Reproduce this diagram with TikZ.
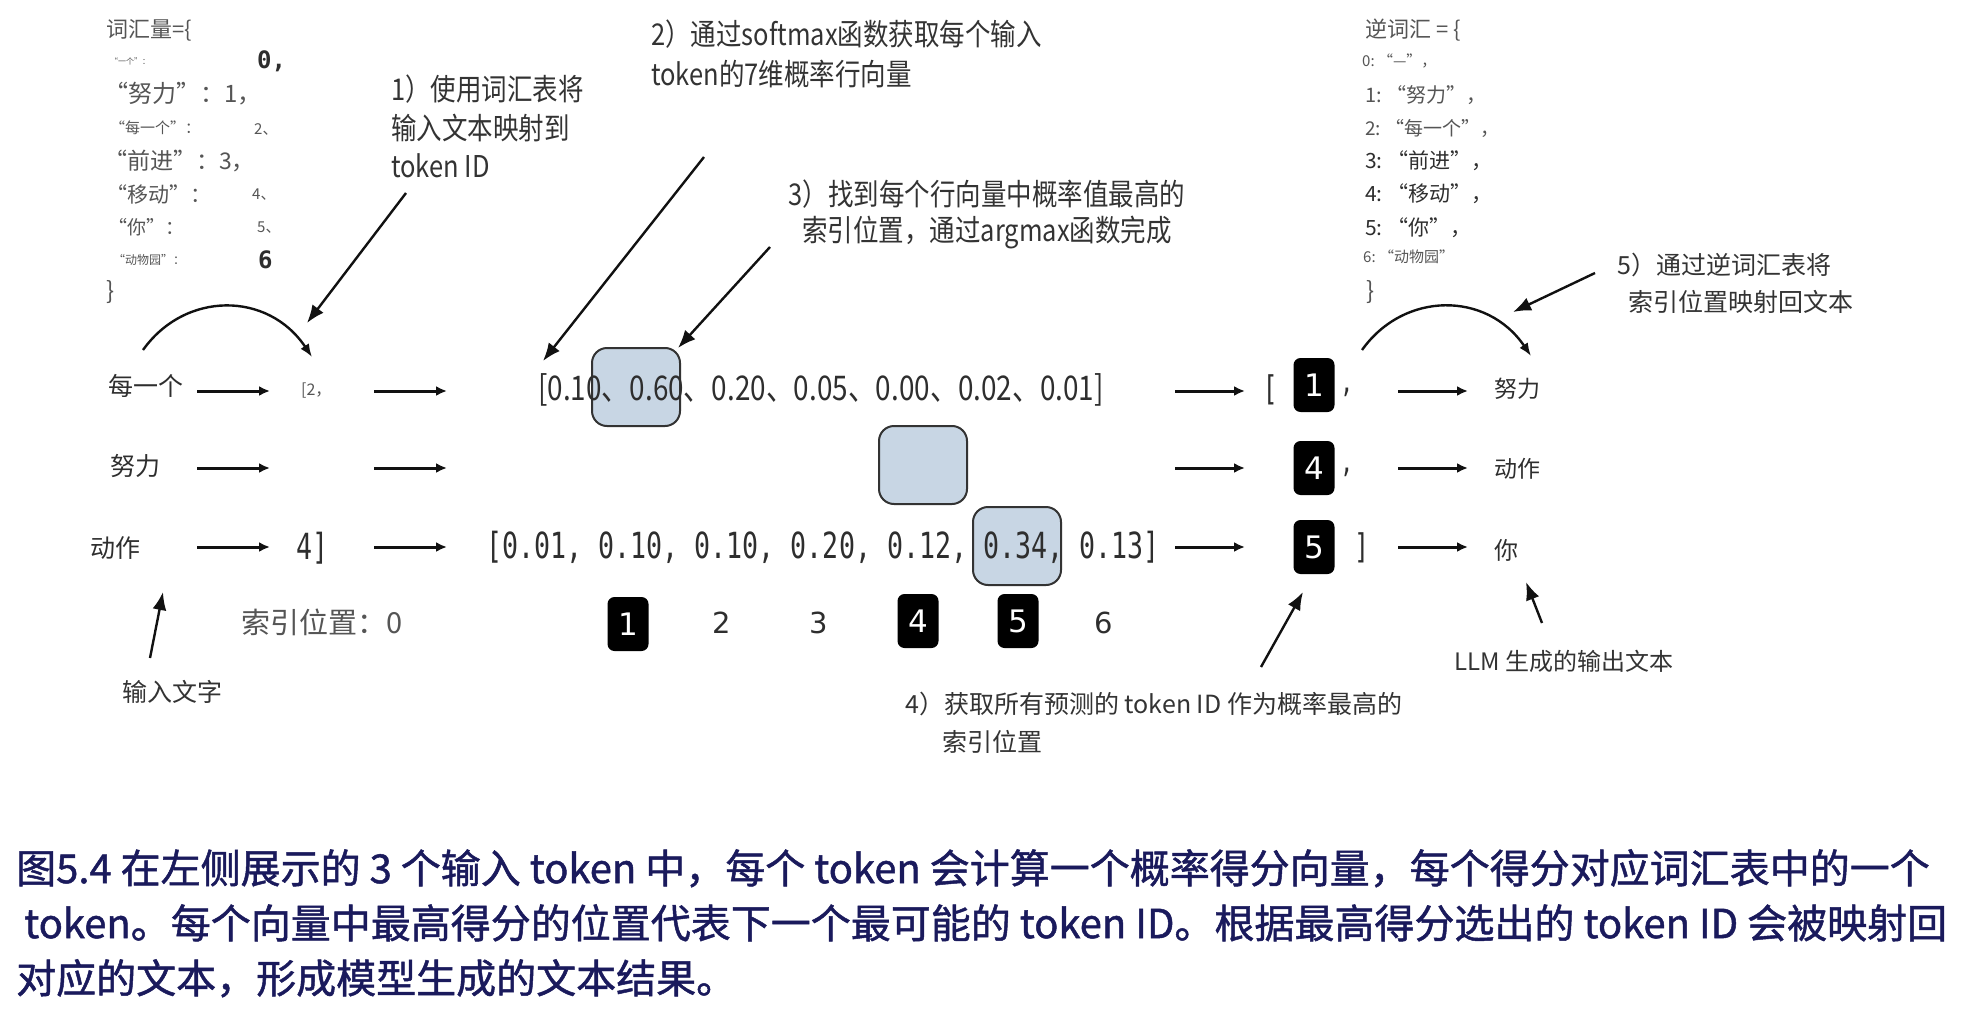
\documentclass[tikz,border=0pt]{standalone}
\usepackage{fontspec}
\setmainfont{Noto Sans CJK SC}
\newfontfamily\narrowfont[FakeStretch=0.85]{Noto Sans CJK SC}
\newfontfamily\vecnarrow[FakeStretch=0.82]{Noto Sans CJK SC}
\newfontfamily\capfont[FakeBold=1.2]{Noto Sans CJK SC}
\newfontfamily\vecmono[FakeStretch=0.74]{DejaVu Sans Mono}
\newfontfamily\vocmono{DejaVu Sans Mono}
\newfontfamily\digfont{DejaVu Sans}
\usetikzlibrary{arrows.meta}
\definecolor{hlblue}{HTML}{C8D6E4}
\definecolor{capnavy}{HTML}{1A1A5C}
\definecolor{txtgray}{HTML}{2E2E2E}
\definecolor{vocgray}{HTML}{555555}
\definecolor{notegray}{HTML}{333333}
\definecolor{arrowblack}{HTML}{111111}
\newcommand{\fsz}[1]{\fontsize{#1}{#1}\selectfont}
\begin{document}
\begin{tikzpicture}[x=1pt,y=-1pt,
  word/.style={anchor=west,inner sep=0pt,text=txtgray,font=\fsz{25}},
  voc/.style={anchor=west,inner sep=0pt,text=vocgray},
  note/.style={inner sep=0pt,text=notegray,align=left},
  flow/.style={-{Latex[length=11pt,width=10pt]},line width=3pt,draw=arrowblack},
  pointer/.style={-{Latex[length=18pt,width=14pt]},line width=2.4pt,draw=arrowblack},
  hop/.style={-{Latex[length=13pt,width=10pt]},line width=2.4pt,draw=arrowblack},
  hlbox/.style={draw=black!80,line width=2pt,fill=hlblue,rounded corners=15pt,minimum width=88pt,minimum height=78pt,inner sep=0pt},
  idbox/.style={fill=black,text=white,rounded corners=7pt,minimum width=41pt,minimum height=54pt,inner sep=0pt,font=\digfont\fsz{31}},
  idnum/.style={inner sep=0pt,text=txtgray,font=\digfont\fsz{29}}]
  \useasboundingbox (0,0) rectangle (1970,1014);

  % vocabulary
  \node[voc,font=\fsz{22}] (vh) at (106,30) {词汇量=\{};
  \node[voc,font=\fsz{8}] (v0) at (110,61) {“一个”：};
  \node[voc,font=\vocmono\bfseries\fsz{24},text=txtgray] (v0n) at (257,61) {0,};
  \node[voc,font=\fsz{24}] (v1) at (104,94) {“努力”：1，};
  \node[voc,font=\fsz{15}] (v2) at (110,128) {“每一个”：};
  \node[voc,font=\fsz{15}] (v2n) at (254,129) {2、};
  \node[voc,font=\fsz{23}] (v3) at (104,161) {“前进”：3，};
  \node[voc,font=\fsz{21}] (v4) at (106,194) {“移动”：};
  \node[voc,font=\fsz{15}] (v4n) at (252,195) {4、};
  \node[voc,font=\fsz{19}] (v5) at (108,227) {“你”：};
  \node[voc,font=\fsz{15}] (v5n) at (257,228) {5、};
  \node[voc,font=\fsz{12}] (v6) at (113,260) {“动物园”：};
  \node[voc,font=\vocmono\bfseries\fsz{24},text=txtgray] (v6n) at (258,260) {6};
  \node[voc,font=\fsz{24}] (vc) at (106,292) {\}};

  % inverse vocabulary
  \node[voc,font=\fsz{22}] (uh) at (1365,30) {逆词汇 = \{};
  \node[voc,font=\fsz{15}] (u0) at (1362,61) {0:~“—”，};
  \node[voc,font=\fsz{20}] (u1) at (1365,95) {1:~“努力”，};
  \node[voc,font=\fsz{19}] (u2) at (1365,128) {2:~“每一个”，};
  \node[voc,font=\fsz{21},text=txtgray] (u3) at (1365,161) {3:~“前进”，};
  \node[voc,font=\fsz{21},text=txtgray] (u4) at (1365,194) {4:~“移动”，};
  \node[voc,font=\fsz{21},text=txtgray] (u5) at (1365,228) {5:~“你”，};
  \node[voc,font=\fsz{15}] (u6) at (1363,257) {6:~“动物园”};
  \node[voc,font=\fsz{24}] (uc) at (1366,292) {\}};

  % highlighted maxima
  \node[hlbox] (hlA) at (636,387) {};
  \node[hlbox] (hlB) at (923,465) {};
  \node[hlbox] (hlC) at (1017,546) {};

  % rows
  \node[word] (w1) at (108,386) {每一个};
  \node[word] (w2) at (110,466) {努力};
  \node[word] (w3) at (90,548) {动作};
  \node[voc,font=\fsz{16}] (t1) at (301,391) {[2，};
  \node[anchor=west,inner sep=0pt,text=txtgray,font=\vecmono\fsz{36}] (t3) at (296,548) {4]};
  \node[inner sep=0pt,text=txtgray,font=\vecnarrow\fsz{34}] (p1) at (821,390) {[0.10、0.60、0.20、0.05、0.00、0.02、0.01]};
  \node[inner sep=0pt,text=txtgray,font=\vecmono\fsz{36}] (p3) at (823,547) {[0.01, 0.10, 0.10, 0.20, 0.12, 0.34, 0.13]};

  \node[idbox] (i1) at (628,624) {1};
  \node[idnum] (i2) at (722,623) {2};
  \node[idnum] (i3) at (819,623) {3};
  \node[idbox] (i4) at (918,621) {4};
  \node[idbox] (i5) at (1018,621) {5};
  \node[idnum] (i6) at (1104,623) {6};
  \node[word,font=\fsz{29},text=vocgray] (i0) at (241,622) {索引位置：0};

  \node[anchor=east,inner sep=0pt,text=txtgray,font=\vecmono\fsz{34}] (ob) at (1278,390) {[};
  \node[idbox] (o1) at (1314,385) {1};
  \node[idbox] (o4) at (1314,468) {4};
  \node[idbox] (o5) at (1314,547) {5};
  \node[anchor=west,inner sep=0pt,text=txtgray,font=\vecmono\fsz{30}] (oc1) at (1340,392) {,};
  \node[anchor=west,inner sep=0pt,text=txtgray,font=\vecmono\fsz{30}] (oc2) at (1340,472) {,};
  \node[anchor=west,inner sep=0pt,text=txtgray,font=\vecmono\fsz{34}] (oc3) at (1354,548) {]};

  \node[word,font=\fsz{23}] (y1) at (1494,389) {努力};
  \node[word,font=\fsz{23}] (y2) at (1494,469) {动作};
  \node[word,font=\fsz{24}] (y3) at (1494,550) {你};

  \foreach \r/\y in {1/391,2/468,3/547}
    \foreach \c/\xa/\xb in {a/197/270,b/374/447,c/1175/1245,d/1398/1468}{
      \coordinate (\c\r s) at (\xa,\y);
      \coordinate (\c\r e) at (\xb,\y);
      \draw[flow] (\c\r s) -- (\c\r e);
    }

  % notes
  \node[note,anchor=north west,font=\narrowfont\fontsize{30}{38.5}\selectfont] (n1) at (391,75) {1）使用词汇表将\\输入文本映射到\\token ID};
  \node[note,anchor=north west,font=\narrowfont\fontsize{30}{40}\selectfont] (n2) at (651,20) {2）通过softmax函数获取每个输入\\token的7维概率行向量};
  \node[note,anchor=north,align=center,font=\narrowfont\fontsize{30}{36}\selectfont] (n3) at (987,180) {3）找到每个行向量中概率值最高的\\索引位置，通过argmax函数完成};
  \node[note,anchor=north west,font=\fontsize{25}{38}\selectfont] (n4) at (905,692) {4）获取所有预测的 token ID 作为概率最高的\\\hspace*{37pt}索引位置};
  \node[note,anchor=north west,font=\fontsize{25}{37}\selectfont] (n5) at (1617,253) {5）通过逆词汇表将\\\hspace*{11pt}索引位置映射回文本};
  \node[note,font=\fsz{25}] (nin) at (172,692) {输入文字};
  \node[note,font=\fsz{24}] (nout) at (1564,661) {LLM 生成的输出文本};

  \coordinate (q1s) at (406,193); \coordinate (q1e) at (307,323);
  \coordinate (q2s) at (704,157); \coordinate (q2e) at (543,361);
  \coordinate (q3s) at (770,247); \coordinate (q3e) at (678,348);
  \coordinate (q4s) at (1261,667); \coordinate (q4e) at (1303,592);
  \coordinate (q5s) at (1595,273); \coordinate (q5e) at (1513,312);
  \coordinate (qis) at (150,658); \coordinate (qie) at (163,592);
  \coordinate (qos) at (1542,623); \coordinate (qoe) at (1526,582);
  \draw[pointer] (q1s) -- (q1e);
  \draw[pointer] (q2s) -- (q2e);
  \draw[pointer] (q3s) -- (q3e);
  \draw[pointer] (q4s) -- (q4e);
  \draw[pointer] (q5s) -- (q5e);
  \draw[pointer] (qis) -- (qie);
  \draw[pointer] (qos) -- (qoe);

  \coordinate (lbs) at (143,350); \coordinate (lbe) at (312,357);
  \coordinate (rbs) at (1362,350); \coordinate (rbe) at (1531,356);
  \draw[hop] (lbs) .. controls (185,291) and (268,291) .. (lbe);
  \draw[hop] (rbs) .. controls (1404,291) and (1487,291) .. (rbe);

  % caption
  \node[anchor=north west,inner sep=0pt,align=left,text=capnavy,font=\capfont\fontsize{40}{55}\selectfont] (cap) at (16,849)
    {图5.4 在左侧展示的 3 个输入 token 中，每个 token 会计算一个概率得分向量，每个得分对应词汇表中的一个\\
     \hspace*{8pt}token。每个向量中最高得分的位置代表下一个最可能的 token ID。根据最高得分选出的 token ID 会被映射回\\
     对应的文本，形成模型生成的文本结果。};
\end{tikzpicture}
\end{document}
